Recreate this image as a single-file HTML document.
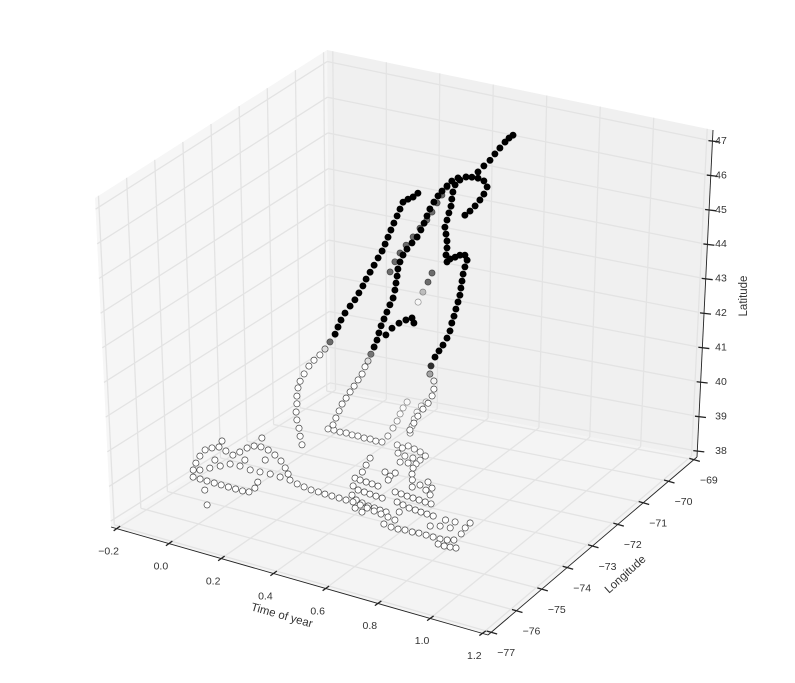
<!DOCTYPE html>
<html><head><meta charset="utf-8"><title>3D track scatter</title>
<style>html,body{margin:0;padding:0;background:#fff;}svg{display:block;font-family:"Liberation Sans",sans-serif;}</style>
</head><body>
<svg id="chart" width="795" height="683" viewBox="0 0 795 683" xmlns="http://www.w3.org/2000/svg">
<g id="panes"></g>
<g id="grid"></g>
<g id="axes"></g>
<g id="points"></g>
<text x="282" y="619" font-size="11.5" fill="#333" text-anchor="middle" transform="rotate(16 282 615)">Time of year</text>
<text x="625" y="578" font-size="11.5" fill="#333" text-anchor="middle" transform="rotate(-42 625 574)">Longitude</text>
<text x="743" y="300" font-size="11.5" fill="#333" text-anchor="middle" transform="rotate(-90 743 296)">Latitude</text>
</svg>
<script>
// ---- axis ticks ----
const timeTicks = [-0.2, 0.0, 0.2, 0.4, 0.6, 0.8, 1.0, 1.2];
const timeTickLabels = ["\u22120.2","0.0","0.2","0.4","0.6","0.8","1.0","1.2"];
const lonTicks = [-77,-76,-75,-74,-73,-72,-71,-70,-69];
const lonTickLabels = ["\u221277","\u221276","\u221275","\u221274","\u221273","\u221272","\u221271","\u221270","\u221269"];
const latTicks = [38,39,40,41,42,43,44,45,46,47];
const latTickLabels = ["38","39","40","41","42","43","44","45","46","47"];

// ---- floor-level (winter) positions ----
const floorLat = 38.9;
const floorTime = [-0.051,-0.025,0.001,0.028,0.054,0.081,0.108,0.134,0.155,0.156,0.141,
-0.078,-0.097,-0.113,-0.123,-0.112,-0.097,-0.063,-0.029,-0.022,-0.018,-0.007,0.015,0.046,0.083,0.122,0.160,0.191,
-0.060,-0.041,-0.021,-0.002,0.032,0.074,0.108,0.143,0.181,0.219,
-0.058,0.022,0.076,-0.112,-0.017,0.093,0.030,
0.253,0.283,0.313,0.340,0.366,0.392,0.419,0.445,0.471,0.502,0.532,0.562,0.592,0.622,0.652,
0.125,0.145,0.169,0.189,0.212,0.232,0.256,0.276,0.299,0.319,
0.312,0.295,0.279,0.260,0.245,0.233,
0.360,0.338,0.317,0.298,0.286,0.284,
0.371,0.396,0.404,0.432,0.459,0.488,0.490,0.463,0.434,0.404,0.444,0.469,0.494,
0.349,0.365,0.381,
0.385,0.406,0.430,0.453,0.477,0.410,0.439,0.463,0.486,0.510,0.534,0.442,0.472,0.499,0.527,0.551,0.574,0.598,0.500,0.534,
0.442,0.471,0.473,0.481,
0.502,0.522,0.545,0.572,
0.545,0.569,0.593,0.616,0.640,0.664,0.687,0.589,0.616,0.644,0.668,0.691,0.715,0.739,0.633,0.585,0.620,0.650,0.595,0.629,
0.638,0.669,0.695,0.717,0.744,0.766,0.793,0.819,0.845,0.868,0.886,0.882,0.870,0.864,0.859,0.883,0.903,0.922,0.769,0.796,0.830,0.787,0.820];
const floorLon = [-75.50,-75.50,-75.50,-75.50,-75.50,-75.50,-75.50,-75.50,-75.47,-75.26,-75.00,
-75.23,-74.94,-74.63,-74.34,-74.19,-74.08,-74.16,-74.24,-74.05,-73.82,-73.67,-73.63,-73.67,-73.79,-73.95,-74.17,-74.37,
-75.16,-74.98,-74.79,-74.61,-74.58,-74.62,-74.59,-74.56,-74.57,-74.58,
-74.62,-74.30,-74.08,-73.82,-73.28,-76.41,-75.87,
-74.65,-74.69,-74.73,-74.73,-74.74,-74.74,-74.74,-74.74,-74.74,-74.78,-74.82,-74.86,-74.90,-74.94,-74.98,
-72.23,-72.21,-72.22,-72.19,-72.20,-72.18,-72.19,-72.16,-72.18,-72.15,
-71.86,-71.50,-71.19,-70.89,-70.63,-70.36,
-71.51,-71.22,-70.93,-70.64,-70.36,-70.16,
-72.10,-72.16,-72.02,-72.07,-72.12,-72.22,-72.43,-72.43,-72.44,-72.40,-72.72,-72.67,-72.62,
-72.89,-73.20,-73.50,
-73.81,-73.83,-73.84,-73.85,-73.87,-74.13,-74.23,-74.24,-74.26,-74.27,-74.28,-74.49,-74.63,-74.68,-74.73,-74.74,-74.76,-74.77,-74.95,-75.03,
-73.26,-73.36,-73.19,-73.53,
-72.81,-73.05,-73.27,-73.54,
-73.91,-73.92,-73.94,-73.95,-73.96,-73.97,-73.98,-74.27,-74.32,-74.37,-74.38,-74.40,-74.41,-74.42,-74.63,-73.38,-73.51,-73.65,-73.18,-73.37,
-75.25,-75.29,-75.29,-75.25,-75.25,-75.22,-75.22,-75.22,-75.22,-75.18,-75.11,-74.80,-74.53,-74.29,-75.43,-75.44,-75.42,-75.39,-74.83,-74.73,-74.69,-74.44,-74.41];

// ---- migration tracks ----
const trackALon = -73.0;
const trackATime = [0.105,0.098,0.094,0.086,0.083,0.086,0.086,0.090,0.098,0.113,0.131,0.150,0.172,0.191,0.210,0.229,0.240,0.251,0.266,0.285,0.303,0.318,0.333,0.345,0.360,0.375,0.390,0.405,0.416,0.427,0.438,0.449,0.461,0.472,0.483,0.502,0.521,0.539];
const trackALat = [38.82,39.04,39.25,39.46,39.67,39.90,40.11,40.34,40.54,40.77,41.02,41.22,41.41,41.61,41.84,42.09,42.31,42.52,42.74,42.97,43.18,43.40,43.62,43.83,44.05,44.27,44.50,44.72,44.93,45.14,45.36,45.57,45.79,46.00,46.21,46.33,46.43,46.57];

const trackBLon = -73.0;
const trackBTime = [0.221,0.232,0.244,0.255,0.270,0.285,0.300,0.315,0.330,0.341,0.352,0.363,0.375,0.386,0.393,0.401,0.412,0.423,0.434,0.446,0.453,0.457,0.461,0.464,0.472,0.483,0.498,0.517,0.536,0.550,0.562,0.573,0.584,0.599,0.614,0.629,0.648,0.666,0.689,
0.419,0.442,0.468,0.494,0.517,0.524];
const trackBLat = [39.60,39.81,40.03,40.24,40.43,40.63,40.82,41.02,41.21,41.43,41.61,41.82,42.04,42.25,42.46,42.67,42.88,43.09,43.31,43.52,43.75,43.95,44.15,44.35,44.56,44.77,44.96,45.17,45.37,45.59,45.80,46.02,46.23,46.45,46.65,46.81,46.99,47.16,47.29,
42.46,42.69,42.88,43.02,43.12,43.00];

const trackCLon = -73.0;
const trackCTime = [0.509,0.524,0.539,0.558,0.577,0.592,0.599,0.599,0.584,0.588,
0.603,0.618,0.633,0.648,0.659,0.666,0.674,0.681,0.689,0.696,0.700,0.704,0.708,0.715,0.723,0.715,0.696,0.678,0.659,0.648,0.644,0.648,0.648,0.644,0.640,0.648,0.655,0.663,0.666,0.670,0.678,0.696,0.719,0.741,0.764,0.786,0.798,0.786,0.771,0.753,0.734,0.715,
0.764,0.786,0.809,0.827,0.846,0.865,0.880,0.895];
const trackCLat = [40.05,40.27,40.49,40.72,40.92,41.15,41.35,41.57,41.73,41.96,
42.23,42.43,42.62,42.84,43.06,43.29,43.49,43.70,43.91,44.11,44.31,44.51,44.71,44.92,45.12,45.24,45.20,45.11,45.02,44.92,45.10,45.30,45.49,45.67,45.85,46.06,46.27,46.47,46.67,46.87,47.08,47.25,47.38,47.42,47.44,47.41,47.27,47.05,46.86,46.66,46.48,46.33,
47.61,47.82,48.02,48.23,48.43,48.63,48.77,48.88];

const trackDLon = -70.0;
const trackDTime = [0.133,0.151,0.170,0.193,0.219,0.245,0.271,0.290,0.309,0.327,0.346,0.290,0.275,0.256,0.238];
const trackDLat = [42.06,42.37,42.65,42.91,43.19,43.48,43.76,44.01,44.30,44.55,44.81,42.35,42.07,41.76,41.45];

// ---- geometry ----
const NS = "http://www.w3.org/2000/svg";
const C000=[111,527],C100=[488,635],C110=[697,457],C010=[330,389],
      C001=[95,198], C101=[492,310],C111=[713,130],C011=[327,50];
function lerp(a,b,t){return [a[0]+(b[0]-a[0])*t,a[1]+(b[1]-a[1])*t];}
function tri(u,v,w){
  const b0=lerp(lerp(C000,C100,u),lerp(C010,C110,u),v);
  const b1=lerp(lerp(C001,C101,u),lerp(C011,C111,u),v);
  return lerp(b0,b1,w);
}
const M=0.015;
function fu(t){return M+(1-2*M)*(t+0.2)/1.4;}
function fv(lon){return M+(1-2*M)*(lon+77)/8;}
function fw(lat){return 0.018+0.948*(lat-38)/9;}
// scatter projection
function proj(t,lon,lat){
  const a=(t+0.2)/1.4, b=(lon+77)/8, c=(lat-38)/9;
  return [113+374*a+215*b, 527+105*a-150*b-330*c];
}
function mk(tag,attrs,parent){const e=document.createElementNS(NS,tag);for(const k in attrs)e.setAttribute(k,attrs[k]);parent.appendChild(e);return e;}
function pts(arr){return arr.map(p=>p[0].toFixed(1)+","+p[1].toFixed(1)).join(" ");}

const panes=document.getElementById("panes");
let el;
el=mk("polygon",{points:pts([tri(0,0,0),tri(1,0,0),tri(1,1,0),tri(0,1,0)]),fill:"#f4f4f4"},panes);


el=mk("polygon",{points:pts([tri(0,0,0),tri(0,1,0),tri(0,1,1),tri(0,0,1)]),fill:"#f6f6f6"},panes);


el=mk("polygon",{points:pts([tri(0,1,0),tri(1,1,0),tri(1,1,1),tri(0,1,1)]),fill:"#f0f0f0"},panes);



const grid=document.getElementById("grid");
function gl(p,q,name){const e=mk("line",{x1:p[0],y1:p[1],x2:q[0],y2:q[1],stroke:"#e3e3e3","stroke-width":1.3},grid);

}
timeTicks.forEach(t=>{const u=fu(t);gl(tri(u,0,0),tri(u,1,0),'floor-gridline');gl(tri(u,1,0),tri(u,1,1),'back-gridline');});
lonTicks.forEach(l=>{const v=fv(l);gl(tri(0,v,0),tri(1,v,0),'floor-gridline');gl(tri(0,v,0),tri(0,v,1),'left-gridline');});
latTicks.forEach(l=>{const w=fw(l);gl(tri(0,0,w),tri(0,1,w),'left-gridline');gl(tri(0,1,w),tri(1,1,w),'back-gridline');});

const axes=document.getElementById("axes");
function al(p,q,name,sw){const e=mk("line",{x1:p[0],y1:p[1],x2:q[0],y2:q[1],stroke:"#222","stroke-width":sw},axes);

}
al(tri(0,0,0),tri(1,0,0),'x-axis-line',0.9);
al(tri(1,0,0),tri(1,1,0),'y-axis-line',0.9);
al(tri(1,1,0),tri(1,1,1),'z-axis-line',0.9);
function lbl(x,y,s,name){const e=mk("text",{x:x,y:y,"font-size":10.5,fill:"#333","text-anchor":"middle","dominant-baseline":"middle"},axes);e.textContent=s;

}
timeTicks.forEach((t,i)=>{const p=tri(fu(t),0,0);al([p[0]-3,p[1]+2.2],[p[0]+3.5,p[1]-2.5],'x-tick',1.3);lbl(p[0]-8,p[1]+23,timeTickLabels[i],'x-tick-label');});
lonTicks.forEach((l,i)=>{const p=tri(1,fv(l),0);al([p[0]-4.5,p[1]-1.3],[p[0]+6,p[1]+1.7],'y-tick',1.3);lbl(p[0]+15,p[1]+21,lonTickLabels[i],'y-tick-label');});
latTicks.forEach((l,i)=>{const p=tri(1,1,fw(l));al([p[0]-4,p[1]-0.5],[p[0]+7,p[1]+0.8],'z-tick',1.3);lbl(721,p[1],latTickLabels[i],'z-tick-label');});

// ---- points ----
const all=[];
floorTime.forEach((t,i)=>all.push([t,floorLon[i],floorLat]));
trackATime.forEach((t,i)=>all.push([t,trackALon,trackALat[i]]));
trackBTime.forEach((t,i)=>all.push([t,trackBLon,trackBLat[i]]));
trackCTime.forEach((t,i)=>all.push([t,trackCLon,trackCLat[i]]));
trackDTime.forEach((t,i)=>all.push([t,trackDLon,trackDLat[i]]));
function depth(p){return (p[1]+77)/8-0.6*(p[0]+0.2)/1.4-0.4*(p[2]-38)/9;}
all.sort((a,b)=>depth(b)-depth(a));
const pg=document.getElementById("points");
all.forEach(p=>{
  const xy=proj(p[0],p[1],p[2]);
  const g=Math.max(0,Math.min(1,(p[2]-41.55)/0.5));
  const v=Math.round(255*(1-g));
  const alpha=Math.max(0.45,Math.min(1,1-(p[1]+73)*0.15));
  const c=mk("circle",{cx:xy[0].toFixed(1),cy:xy[1].toFixed(1),r:3.1,fill:"rgb("+v+","+v+","+v+")","fill-opacity":alpha,stroke:g>0.8?"rgb("+v+","+v+","+v+")":"#444","stroke-opacity":alpha,"stroke-width":0.7},pg);
  
  
});
</script>
</body></html>
